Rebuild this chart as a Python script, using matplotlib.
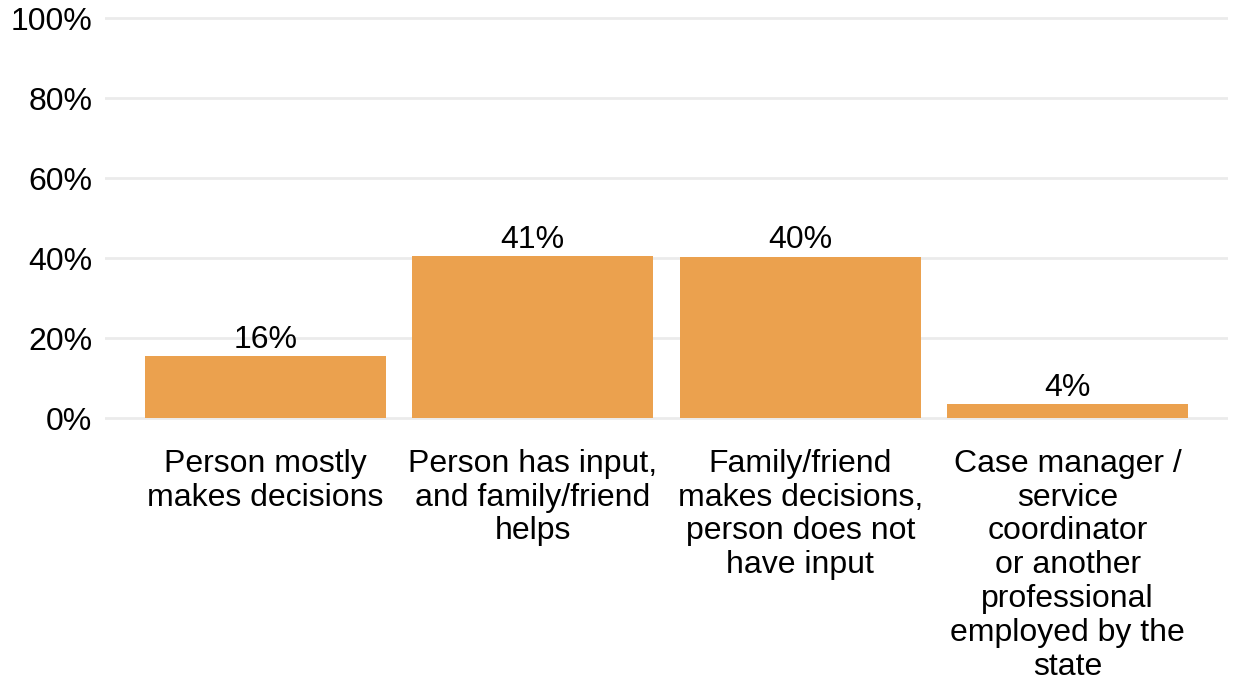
import matplotlib.pyplot as plt
import numpy as np

plt.rcParams['font.family'] = ['Liberation Sans', 'DejaVu Sans']

# Datos
categorias = [
    'Person mostly\nmakes decisions',
    'Person has input,\nand family/friend\nhelps',
    'Family/friend\nmakes decisions,\nperson does not\nhave input',
    'Case manager /\nservice\ncoordinator\nor another\nprofessional\nemployed by the\nstate',
]
valores = [15.6, 40.6, 40.4, 3.6]
ticks_y = [0, 20, 40, 60, 80, 100]

color_barra = '#EBA14E'
color_grid = '#EBEBEB'

W, H = 1233, 690
fig = plt.figure(figsize=(W / 100, H / 100), dpi=100)
# ejes en pixeles: y=-1 en 422.5, y=101 en 14
ax = fig.add_axes([105 / W, 1 - 422.5 / H, (1228 - 105) / W, (422.5 - 14) / H])

x = np.arange(len(categorias))
barras = ax.bar(x, valores, width=0.9, color=color_barra, zorder=2)
ax.bar_label(barras, labels=[f'{v:.0f}%' for v in valores], padding=1, fontsize=23)

ax.set_xlim(-0.6, 3.6)
ax.set_ylim(-1, 101)
ax.set_yticks(ticks_y)
ax.set_yticklabels([f'{t}%' for t in ticks_y], fontsize=23)
ax.set_xticks(x)
ax.set_xticklabels(categorias, fontsize=23, linespacing=1.165)
ax.tick_params(axis='both', length=0)
ax.tick_params(axis='y', pad=9)
ax.tick_params(axis='x', pad=19)
ax.grid(axis='y', color=color_grid, lw=2, zorder=0)
for s in ax.spines.values():
    s.set_visible(False)

fig.savefig('out.png', dpi=100)
